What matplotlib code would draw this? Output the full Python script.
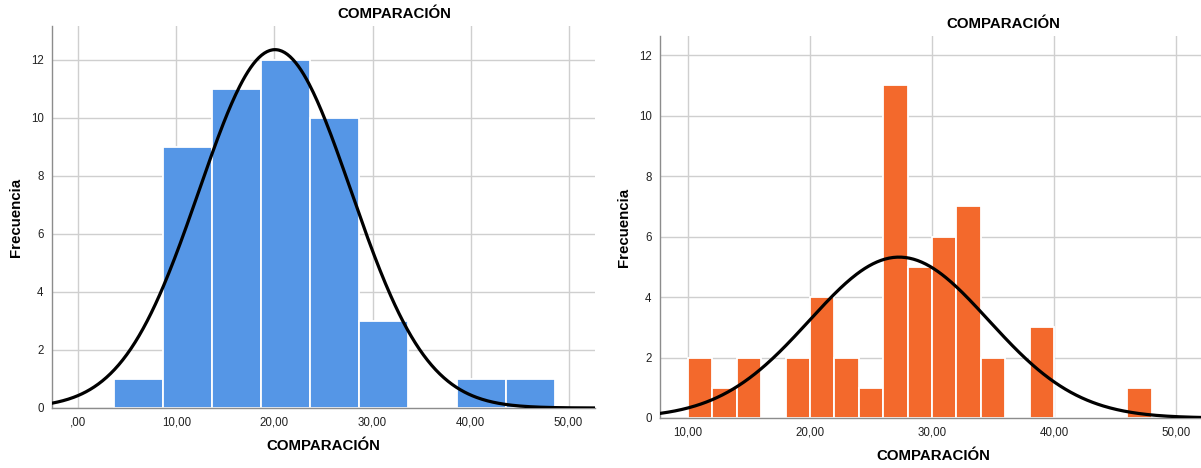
import numpy as np
import matplotlib
matplotlib.use('Agg')
import matplotlib.pyplot as plt

plt.rcParams['font.family'] = ['Liberation Sans', 'DejaVu Sans']

# datos panel izquierdo (azul)
left_edges = [3.6, 8.6, 13.6, 18.6, 23.6, 28.6, 33.6, 38.6, 43.6]
left_counts = [1, 9, 11, 12, 10, 3, 0, 1, 1]
left_binw = 5.0
left_mean = 20.05
left_sd = 7.75

# datos panel derecho (naranja)
right_edges = [10, 12, 14, 16, 18, 20, 22, 24, 26, 28, 30, 32, 34, 36, 38, 40, 42, 44, 46]
right_counts = [2, 1, 2, 0, 2, 4, 2, 1, 11, 5, 6, 7, 2, 0, 3, 0, 0, 0, 1]
right_binw = 2.0
right_mean = 27.3
right_sd = 7.35

xticks = [0, 10, 20, 30, 40, 50]
xtick_labels = [',00', '10,00', '20,00', '30,00', '40,00', '50,00']
right_xticks = [10, 20, 30, 40, 50]
right_xtick_labels = ['10,00', '20,00', '30,00', '40,00', '50,00']
yticks = [0, 2, 4, 6, 8, 10, 12]

W, H = 1201, 468
fig = plt.figure(figsize=(W / 100, H / 100), dpi=100)


def panel(rect, edges, counts, binw, mean, sd, color, xlim, ylim, xt, xtl):
    ax = fig.add_axes(rect)
    ax.bar(edges, counts, width=binw, align='edge', color=color,
           edgecolor='white', linewidth=1.3, zorder=2)
    n = sum(counts)
    xs = np.linspace(xlim[0], xlim[1], 400)
    ys = n * binw / (sd * np.sqrt(2 * np.pi)) * np.exp(-(xs - mean) ** 2 / (2 * sd ** 2))
    ax.plot(xs, ys, color='black', linewidth=2.3, zorder=3)
    ax.set_xlim(*xlim)
    ax.set_ylim(*ylim)
    ax.set_xticks(xt)
    ax.set_xticklabels(xtl)
    ax.set_yticks(yticks)
    ax.grid(True, color='#cfcfcf', linewidth=1.0, zorder=0)
    ax.set_axisbelow(True)
    for s in ['top', 'right']:
        ax.spines[s].set_visible(False)
    for s in ['left', 'bottom']:
        ax.spines[s].set_color('#8c8c8c')
        ax.spines[s].set_linewidth(1.0)
    ax.tick_params(length=0, labelsize=8.3, colors='#222222', pad=6)
    return ax


ax1 = panel([52 / W, 1 - 408 / H, (595 - 52) / W, (408 - 26) / H],
            left_edges, left_counts, left_binw, left_mean, left_sd,
            '#5596e6', (-2.7, 52.7), (0, 13.17), xticks, xtick_labels)
ax2 = panel([660 / W, 1 - 418 / H, (1201 - 660) / W, (418 - 36) / H],
            right_edges, right_counts, right_binw, right_mean, right_sd,
            '#f3692c', (7.7, 52.05), (0, 12.63), right_xticks, right_xtick_labels)

tkw = dict(fontsize=10.8, fontweight='bold', ha='center', va='center')
fig.text(394 / W, 1 - 14 / H, 'COMPARACIÓN', **tkw)
fig.text(1003 / W, 1 - 24 / H, 'COMPARACIÓN', **tkw)
fig.text(323 / W, 1 - 446 / H, 'COMPARACIÓN', **tkw)
fig.text(933 / W, 1 - 456 / H, 'COMPARACIÓN', **tkw)
fig.text(16 / W, 1 - 217 / H, 'Frecuencia', rotation=90, **tkw)
fig.text(624 / W, 1 - 227 / H, 'Frecuencia', rotation=90, **tkw)

fig.savefig('out.png', dpi=100)
